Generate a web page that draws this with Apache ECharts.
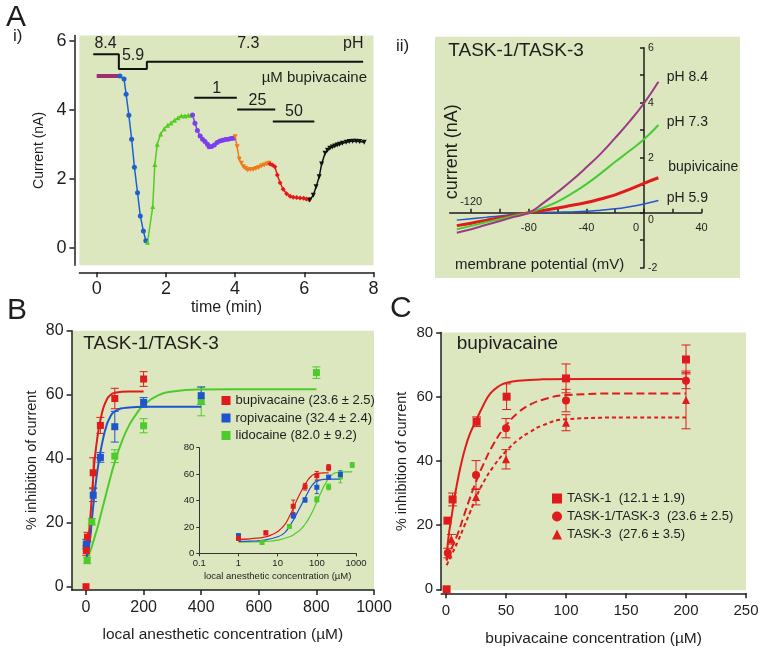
<!DOCTYPE html>
<html>
<head>
<meta charset="utf-8">
<script src="https://cdn.jsdelivr.net/npm/echarts@6/dist/echarts.min.js"></script>
<style>
  html, body { margin: 0; padding: 0; background: #fff; }
  #chart { width: 766px; height: 653px; }
</style>
</head>
<body>
<div id="chart"></div>
<script>
const FONT = "'Liberation Sans', Arial, sans-serif";
const BG = "#dce6bf";
const INK = "#1e1e1e";

// ---- panel A i : current vs time (min, nA)
const tracePurple = [[0, 4.98], [0.65, 4.98]];
const traceBlue = [[0.67, 4.98], [0.79, 4.89], [0.85, 4.45], [0.93, 3.84], [1.01, 3.15], [1.09, 2.34], [1.18, 1.6], [1.26, 0.93], [1.35, 0.49], [1.42, 0.21]];
const traceGreen = [[1.47, 0.17], [1.62, 1.2], [1.68, 2.42], [1.75, 3.0], [1.85, 3.3], [1.95, 3.45], [2.05, 3.55], [2.15, 3.62], [2.25, 3.7], [2.35, 3.77], [2.45, 3.83], [2.55, 3.82], [2.65, 3.84], [2.75, 3.84]];
const traceViolet = [[2.77, 3.85], [2.84, 3.61], [2.91, 3.4], [2.99, 3.24], [3.06, 3.15], [3.13, 3.08], [3.2, 3.0], [3.25, 2.93], [3.32, 2.94], [3.4, 2.98], [3.48, 3.05], [3.56, 3.1], [3.64, 3.12], [3.72, 3.14], [3.8, 3.15], [3.88, 3.17], [3.95, 3.18]];
const traceOrange = [[4.0, 3.22], [4.06, 2.93], [4.12, 2.57], [4.18, 2.45], [4.24, 2.35], [4.3, 2.3], [4.36, 2.26], [4.44, 2.27], [4.52, 2.27], [4.6, 2.3], [4.68, 2.33], [4.76, 2.37], [4.84, 2.4], [4.92, 2.43], [4.98, 2.45]];
const traceRed = [[5.01, 2.43], [5.08, 2.4], [5.15, 2.35], [5.22, 2.11], [5.3, 1.89], [5.39, 1.7], [5.49, 1.57], [5.59, 1.5], [5.68, 1.47], [5.78, 1.46], [5.88, 1.45], [5.98, 1.44], [6.06, 1.42], [6.14, 1.4]];
const traceBlack = [[6.16, 1.39], [6.26, 1.53], [6.34, 1.77], [6.43, 2.06], [6.5, 2.43], [6.6, 2.74], [6.67, 2.83], [6.74, 2.89], [6.81, 2.92], [6.88, 2.95], [6.95, 2.98], [7.02, 3.0], [7.1, 3.03], [7.21, 3.06], [7.3, 3.08], [7.4, 3.09], [7.5, 3.09], [7.6, 3.08], [7.73, 3.06]];
const phStep = [[-0.1, 5.61], [0.64, 5.61], [0.64, 5.18], [1.45, 5.18], [1.45, 5.39], [7.7, 5.39]];
const bar1 = [[2.82, 4.35], [4.05, 4.35]];
const bar25 = [[4.06, 4.01], [5.16, 4.01]];
const bar50 = [[5.09, 3.66], [6.29, 3.66]];
const timeTicks = [0, 2, 4, 6, 8];
const currentTicks = [0, 2, 4, 6];

// ---- panel A ii : I-V curves (mV, nA)
const ivVolt = [-130, -120, -110, -100, -90, -80, -70, -60, -50, -40, -30, -20, -10, 0, 10];
const ivPh84 = [-0.73, -0.6, -0.45, -0.3, -0.15, 0, 0.35, 0.75, 1.18, 1.65, 2.15, 2.72, 3.32, 3.98, 4.76];
const ivPh73 = [-0.6, -0.48, -0.35, -0.23, -0.11, 0, 0.18, 0.4, 0.7, 1.04, 1.43, 1.85, 2.25, 2.67, 3.19];
const ivBupi = [-0.47, -0.38, -0.28, -0.18, -0.09, 0, 0.08, 0.17, 0.27, 0.37, 0.5, 0.65, 0.85, 1.07, 1.27];
const ivPh59 = [-0.27, -0.22, -0.17, -0.12, -0.06, 0, 0.01, 0.02, 0.03, 0.05, 0.09, 0.14, 0.22, 0.32, 0.44];
const voltTicks = [-120, -100, -80, -60, -40, -20, 0, 20, 40];
const voltLabels = [-80, -40, 0, 40];
const ampTicks = [-2, -1, 0, 1, 2, 3, 4, 5, 6];
const ampLabels = [-2, 0, 2, 4, 6];

// ---- panel B : local anaesthetics on TASK-1/TASK-3 (µM, % inhibition)
const bupiConc = [0, 1, 5, 25, 50, 100, 200];
const bupiInh = [0, 11.3, 15.5, 35.6, 50.4, 58.8, 64.9];
const bupiErr = [0, 1.5, 1.5, 4.7, 2.5, 3.2, 2.3];
const ropiConc = [1, 25, 50, 100, 200, 400];
const ropiInh = [13.3, 28.6, 40.4, 50, 57.6, 59.7];
const ropiErr = [1.5, 2, 1.5, 4.8, 1.5, 2.7];
const lidoConc = [4, 20, 100, 200, 400, 800];
const lidoInh = [8.2, 20.3, 40.8, 50.3, 57.9, 66.9];
const lidoErr = [1, 1, 2, 2.2, 4.5, 1.8];
const bupiFitX = [1, 2, 3, 5, 7, 10, 15, 20, 25, 30, 40, 50, 60, 70, 80, 100, 150, 200];
const bupiFitY = [10.5, 11, 11.5, 12.5, 14, 16.5, 21.5, 28, 34, 39.5, 47, 52, 55.8, 58, 59.5, 60.6, 61, 61];
const ropiFitX = [1, 2, 5, 10, 15, 20, 25, 30, 40, 50, 60, 70, 80, 100, 150, 200, 300, 400];
const ropiFitY = [9, 9.2, 10.2, 12.5, 15.5, 20.5, 25, 29.5, 36.5, 42, 46.5, 50, 52.3, 54.8, 56, 56.2, 56.2, 56.2];
const lidoFitX = [1, 2, 5, 10, 20, 30, 40, 50, 60, 80, 100, 125, 150, 175, 200, 250, 300, 400, 600, 800];
const lidoFitY = [8.5, 8.6, 9, 10, 12.5, 15.5, 18.5, 22, 25.5, 32.5, 39, 45.5, 50.5, 54, 56.8, 59.8, 61, 61.6, 61.7, 61.7];
const concTicksB = [0, 200, 400, 600, 800, 1000];
const inhTicks = [0, 20, 40, 60, 80];

// ---- panel C : bupivacaine on TASK channels
const t1Conc = [0.5, 1.2, 5.5, 25.5, 50.5, 100, 200];
const t1Inh = [0, 21.4, 28, 52.2, 60, 65.7, 71.6];
const t1Err = [0, 0, 2, 1.5, 4, 4.5, 4.5];
const t13Conc = [1.5, 25, 50, 100, 200];
const t13Inh = [11.3, 35.6, 50.2, 58.8, 65];
const t13Err = [1.5, 4.5, 3, 3.5, 2.5];
const t3Conc = [4.5, 25, 50, 100, 200];
const t3Inh = [15.6, 28.8, 40.5, 51.9, 59];
const t3Err = [1.5, 2.5, 3, 2.5, 9];
const t1FitX = [0.5, 2, 5, 8, 12, 16, 20, 25, 30, 37, 45, 50, 60, 80, 120, 200];
const t1FitY = [9, 16, 23.5, 30.5, 38, 44, 48.5, 52.5, 56.5, 61, 63.5, 64.3, 65, 65.4, 65.5, 65.5];
const t13FitX = [0.5, 5, 10, 15, 20, 25, 30, 40, 50, 60, 70, 80, 100, 150, 200];
const t13FitY = [9, 13, 17.5, 23, 28.5, 33.5, 38, 45.5, 51, 55, 57.5, 59, 60.5, 61, 61];
const t3FitX = [0.5, 5, 10, 15, 20, 25, 30, 40, 50, 60, 70, 80, 100, 150, 200];
const t3FitY = [7.5, 11, 15, 19.5, 24, 28.5, 32.5, 38.5, 43, 46.5, 49, 51, 53, 53.5, 53.5];
const concTicksC = [0, 50, 100, 150, 200, 250];

const NAME_BUPI = "bupivacaine (23.6 ± 2.5)";
const NAME_ROPI = "ropivacaine (32.4 ± 2.4)";
const NAME_LIDO = "lidocaine (82.0 ± 9.2)";
const NAME_T1 = "TASK-1  (12.1 ± 1.9)";
const NAME_T13 = "TASK-1/TASK-3  (23.6 ± 2.5)";
const NAME_T3 = "TASK-3  (27.6 ± 3.5)";

const RED = "#e01b1b", BLUE = "#1f55cc", GREEN = "#4ccc2a";

function xy(xs, ys) {
  return xs.map((x, i) => [x, ys[i]]);
}
function xye(xs, ys, es) {
  return xs.map((x, i) => [x, ys[i], es[i]]);
}

function errBars(color, cap) {
  return function (params, api) {
    var x = api.value(0), y = api.value(1), e = api.value(2);
    if (!e) return null;
    var hi = api.coord([x, y + e]);
    var lo = api.coord([x, y - e]);
    var s = { stroke: color, lineWidth: 1 };
    return {
      type: "group",
      children: [
        { type: "line", shape: { x1: hi[0], y1: hi[1], x2: lo[0], y2: lo[1] }, style: s },
        { type: "line", shape: { x1: hi[0] - cap, y1: hi[1], x2: hi[0] + cap, y2: hi[1] }, style: s },
        { type: "line", shape: { x1: lo[0] - cap, y1: lo[1], x2: lo[0] + cap, y2: lo[1] }, style: s },
      ],
    };
  };
}

function axisBase(size, extra) {
  return Object.assign(
    {
      type: "value",
      splitLine: { show: false },
      axisLine: { show: true, onZero: false, lineStyle: { color: INK, width: 1.5 } },
      axisTick: { show: true, length: 5, lineStyle: { color: INK, width: 1.5 } },
      axisLabel: { color: INK, fontSize: size, fontFamily: FONT },
      nameTextStyle: { color: INK, fontFamily: FONT },
    },
    extra
  );
}

function trace(data, color, symbol, rotate) {
  return {
    type: "line", xAxisIndex: 0, yAxisIndex: 0, data: data,
    symbol: symbol, symbolSize: 5, symbolRotate: rotate || 0, showSymbol: true,
    lineStyle: { color: color, width: 1.5 }, itemStyle: { color: color }, z: 3,
  };
}
function protocol(data) {
  return {
    type: "line", xAxisIndex: 0, yAxisIndex: 0, data: data, symbol: "none",
    lineStyle: { color: "#111", width: 2 },
  };
}
function ivLine(ys, color, w) {
  return {
    type: "line", xAxisIndex: 1, yAxisIndex: 1, data: xy(ivVolt, ys), smooth: true,
    symbol: "none", lineStyle: { color: color, width: w },
  };
}
function fit(xi, yi, xs, ys, color, w, dash) {
  return {
    type: "line", xAxisIndex: xi, yAxisIndex: yi, data: xy(xs, ys), smooth: true,
    symbol: "none", lineStyle: { color: color, width: w, type: dash || "solid" },
  };
}
function dots(xi, yi, name, xs, ys, color, symbol, size) {
  return {
    type: "scatter", name: name, xAxisIndex: xi, yAxisIndex: yi,
    data: xy(xs, ys).filter((p) => xi !== 4 || p[0] > 0),
    symbol: symbol, symbolSize: size, itemStyle: { color: color, opacity: 1 }, z: 4,
  };
}
function errs(xi, yi, xs, ys, es, color, cap) {
  return {
    type: "custom", xAxisIndex: xi, yAxisIndex: yi,
    data: xye(xs, ys, es).filter((p) => xi !== 4 || p[0] > 0),
    renderItem: errBars(color, cap), z: 3,
  };
}

function txt(x, y, s, size, align, rot) {
  return {
    type: "text", x: x, y: y, rotation: rot || 0,
    style: {
      text: s, fill: INK, font: size + "px " + FONT,
      textAlign: align || "left", textVerticalAlign: "middle",
    },
  };
}

const chart = echarts.init(document.getElementById("chart"), null, { renderer: "canvas" });

const option = {
  animation: false,
  backgroundColor: "#ffffff",
  textStyle: { fontFamily: FONT },
  grid: [
    { left: 79.4, top: 35.5, width: 294.1, height: 229.8, show: true, backgroundColor: BG, borderWidth: 0, outerBoundsMode: "none" },
    { left: 449.6, top: 47.7, width: 252, height: 220, outerBoundsMode: "none" },
    { left: 71.6, top: 330.7, width: 302.4, height: 259.2, show: true, backgroundColor: BG, borderWidth: 0, outerBoundsMode: "none" },
    { left: 199.3, top: 447.7, width: 156.7, height: 105.6, outerBoundsMode: "none" },
    { left: 441.2, top: 332.5, width: 304.8, height: 257.8, show: true, backgroundColor: BG, borderWidth: 0, outerBoundsMode: "none" },
  ],
  xAxis: [
    axisBase(18, {
      gridIndex: 0, min: -0.5, max: 8, offset: 7,
      axisTick: { show: true, length: 5, customValues: timeTicks, lineStyle: { color: INK, width: 1.5 } },
      axisLabel: { color: INK, fontSize: 18, fontFamily: FONT, customValues: timeTicks, margin: 8 },
      name: "time (min)", nameLocation: "middle", nameGap: 27,
      nameTextStyle: { color: INK, fontFamily: FONT, fontSize: 16 },
    }),
    // A ii axes sit on the zero lines, pushed in with negative offsets
    axisBase(11, {
      gridIndex: 1, min: -135, max: 40, position: "bottom", offset: -55,
      axisTick: { show: true, inside: true, length: 4, customValues: voltTicks, lineStyle: { color: INK, width: 1.5 } },
      axisLabel: {
        color: INK, fontSize: 11, fontFamily: FONT, customValues: voltLabels, margin: 10,
        formatter: (v) => (v === 0 ? "{z|0}" : String(v)),
        rich: { z: { fontSize: 11, fontFamily: FONT, color: INK, padding: [0, 16, 0, 0] } },
      },
    }),
    axisBase(11, {
      gridIndex: 1, min: -135, max: 40, position: "bottom", offset: -55,
      axisLine: { show: false },
      axisTick: { show: false },
      axisLabel: { color: INK, fontSize: 11, fontFamily: FONT, inside: true, customValues: [-120], margin: 5 },
    }),
    axisBase(16, {
      gridIndex: 2, min: -50, max: 1000,
      axisTick: { show: true, length: 5, customValues: concTicksB, lineStyle: { color: INK, width: 1.5 } },
      axisLabel: { color: INK, fontSize: 16, fontFamily: FONT, customValues: concTicksB, margin: 10, formatter: (v) => String(v) },
      name: "local anesthetic concentration (µM)", nameLocation: "middle", nameGap: 37,
      nameTextStyle: { color: INK, fontFamily: FONT, fontSize: 15.5 },
    }),
    {
      type: "log", gridIndex: 3, min: 0.1, max: 1000, logBase: 10,
      splitLine: { show: false },
      axisLine: { show: true, onZero: false, lineStyle: { color: "#333", width: 1 } },
      axisTick: { show: true, length: 3, lineStyle: { color: "#333" } },
      axisLabel: { color: INK, fontSize: 9.5, fontFamily: FONT, margin: 5, formatter: (v) => String(+v.toPrecision(3)) },
      name: "local anesthetic concentration (µM)", nameLocation: "middle", nameGap: 18,
      nameTextStyle: { color: INK, fontFamily: FONT, fontSize: 9.5 },
    },
    axisBase(15, {
      gridIndex: 4, min: -4, max: 250, offset: 3,
      axisTick: { show: true, length: 5, customValues: concTicksC, lineStyle: { color: INK, width: 1.5 } },
      axisLabel: { color: INK, fontSize: 15, fontFamily: FONT, customValues: concTicksC, margin: 10 },
      name: "bupivacaine concentration (µM)", nameLocation: "middle", nameGap: 37,
      nameTextStyle: { color: INK, fontFamily: FONT, fontSize: 15.5 },
    }),
  ],
  yAxis: [
    axisBase(18, {
      gridIndex: 0, min: -0.5, max: 6.15, offset: 5,
      axisTick: { show: true, length: 5, customValues: currentTicks, lineStyle: { color: INK, width: 1.5 } },
      axisLabel: { color: INK, fontSize: 18, fontFamily: FONT, customValues: currentTicks, margin: 8 },
      name: "Current (nA)", nameLocation: "middle", nameGap: 28,
      nameTextStyle: { color: INK, fontFamily: FONT, fontSize: 14 },
    }),
    axisBase(10, {
      gridIndex: 1, min: -2, max: 6, position: "left", offset: -194.4,
      axisTick: { show: true, length: 4, customValues: ampTicks, lineStyle: { color: INK, width: 1.5 } },
      axisLabel: {
        color: INK, fontSize: 10.5, fontFamily: FONT, inside: true, customValues: ampLabels, margin: 4,
        formatter: (v) => (v === 0 ? "{z|0}" : String(v)),
        rich: { z: { fontSize: 10.5, fontFamily: FONT, color: INK, padding: [14, 0, 0, 0] } },
      },
    }),
    axisBase(16, {
      gridIndex: 2, min: -1, max: 80,
      axisTick: { show: true, length: 5, customValues: inhTicks, lineStyle: { color: INK, width: 1.5 } },
      axisLabel: { color: INK, fontSize: 16, fontFamily: FONT, customValues: inhTicks, margin: 8 },
      name: "% inhibition of current", nameLocation: "middle", nameGap: 32,
      nameTextStyle: { color: INK, fontFamily: FONT, fontSize: 14.5 },
    }),
    {
      type: "value", gridIndex: 3, min: 0, max: 80, interval: 20,
      splitLine: { show: false },
      axisLine: { show: true, onZero: false, lineStyle: { color: "#333", width: 1 } },
      axisTick: { show: true, length: 3, lineStyle: { color: "#333" } },
      axisLabel: { color: INK, fontSize: 9.5, fontFamily: FONT, margin: 5 },
    },
    axisBase(15, {
      gridIndex: 4, min: -0.3, max: 80,
      axisTick: { show: true, length: 5, customValues: inhTicks, lineStyle: { color: INK, width: 1.5 } },
      axisLabel: { color: INK, fontSize: 15, fontFamily: FONT, customValues: inhTicks, margin: 8 },
      name: "% inhibition of current", nameLocation: "middle", nameGap: 32,
      nameTextStyle: { color: INK, fontFamily: FONT, fontSize: 14.5 },
    }),
  ],
  legend: [
    {
      left: 221.5, top: 394, orient: "vertical", padding: 0, itemGap: 4.5,
      itemWidth: 9, itemHeight: 9, selectedMode: false,
      textStyle: { fontSize: 13, color: INK, fontFamily: FONT, lineHeight: 13 },
      data: [NAME_BUPI, NAME_ROPI, NAME_LIDO],
    },
    {
      left: 552, top: 492, orient: "vertical", padding: 0, itemGap: 5,
      itemWidth: 10, itemHeight: 10, selectedMode: false,
      textStyle: { fontSize: 13, color: INK, fontFamily: FONT, lineHeight: 13 },
      data: [NAME_T1, NAME_T13, NAME_T3],
    },
  ],
  graphic: [
    { type: "rect", shape: { x: 435, y: 36.7, width: 305, height: 241.3 }, style: { fill: BG }, z: -10 },
    txt(6, 18, "A", 30),
    txt(13, 36, "i)", 17),
    txt(396, 46, "ii)", 17),
    txt(7, 311, "B", 30),
    txt(390, 309, "C", 30),
    // A i protocol annotations
    txt(105.5, 44, "8.4", 16, "center"),
    txt(133, 56, "5.9", 16, "center"),
    txt(248.3, 44, "7.3", 16, "center"),
    txt(363.5, 44, "pH", 16, "right"),
    txt(367, 77.5, "µM bupivacaine", 15, "right"),
    txt(216.7, 88.7, "1", 16, "center"),
    txt(257.5, 100.5, "25", 16, "center"),
    txt(294, 112, "50", 16, "center"),
    // A ii labels
    txt(448.3, 51, "TASK-1/TASK-3", 19),
    txt(666.7, 76.7, "pH 8.4", 14),
    txt(666.7, 122.5, "pH 7.3", 14),
    txt(668.3, 167.5, "bupivicaine", 14),
    txt(666.7, 198.3, "pH 5.9", 14),
    txt(451.7, 151.7, "current (nA)", 18, "center", Math.PI / 2),
    txt(455, 265, "membrane potential (mV)", 15),
    // titles
    txt(83.3, 344, "TASK-1/TASK-3", 19),
    txt(456.7, 343.3, "bupivacaine", 19),
  ],
  series: [
    // A i
    protocol(phStep),
    protocol(bar1),
    protocol(bar25),
    protocol(bar50),
    {
      type: "line", xAxisIndex: 0, yAxisIndex: 0, data: tracePurple, symbol: "none",
      lineStyle: { color: "#9b2f72", width: 4 },
    },
    trace(traceBlue, "#1f5fd0", "circle"),
    trace(traceGreen, "#55cc22", "triangle"),
    trace(traceViolet, "#7b3ff0", "circle"),
    trace(traceOrange, "#f07a1a", "triangle", 180),
    trace(traceRed, "#e81818", "diamond"),
    trace(traceBlack, "#111111", "triangle", 180),
    // A ii
    ivLine(ivPh59, "#2255cc", 1.5),
    ivLine(ivBupi, "#e01b1b", 3),
    ivLine(ivPh73, "#44cc33", 2),
    ivLine(ivPh84, "#9b3a86", 2),
    // B main
    fit(3, 2, lidoFitX, lidoFitY, GREEN, 2),
    fit(3, 2, ropiFitX, ropiFitY, BLUE, 2),
    fit(3, 2, bupiFitX, bupiFitY, RED, 2),
    errs(3, 2, lidoConc, lidoInh, lidoErr, GREEN, 4),
    errs(3, 2, ropiConc, ropiInh, ropiErr, BLUE, 4),
    errs(3, 2, bupiConc, bupiInh, bupiErr, RED, 4),
    dots(3, 2, NAME_LIDO, lidoConc, lidoInh, GREEN, "rect", 7),
    dots(3, 2, NAME_ROPI, ropiConc, ropiInh, BLUE, "rect", 7),
    dots(3, 2, NAME_BUPI, bupiConc, bupiInh, RED, "rect", 7),
    // B inset
    fit(4, 3, lidoFitX, lidoFitY, GREEN, 1.2),
    fit(4, 3, ropiFitX, ropiFitY, BLUE, 1.2),
    fit(4, 3, bupiFitX, bupiFitY, RED, 1.2),
    errs(4, 3, lidoConc, lidoInh, lidoErr, GREEN, 2),
    errs(4, 3, ropiConc, ropiInh, ropiErr, BLUE, 2),
    errs(4, 3, bupiConc, bupiInh, bupiErr, RED, 2),
    dots(4, 3, NAME_LIDO, lidoConc, lidoInh, GREEN, "rect", 5),
    dots(4, 3, NAME_ROPI, ropiConc, ropiInh, BLUE, "rect", 5),
    dots(4, 3, NAME_BUPI, bupiConc, bupiInh, RED, "rect", 5),
    // C
    fit(5, 4, t1FitX, t1FitY, RED, 2),
    fit(5, 4, t13FitX, t13FitY, RED, 2, [8, 4]),
    fit(5, 4, t3FitX, t3FitY, RED, 2, [4, 3]),
    errs(5, 4, t1Conc, t1Inh, t1Err, RED, 4.5),
    errs(5, 4, t13Conc, t13Inh, t13Err, RED, 4.5),
    errs(5, 4, t3Conc, t3Inh, t3Err, RED, 4.5),
    dots(5, 4, NAME_T1, t1Conc, t1Inh, RED, "rect", 8),
    dots(5, 4, NAME_T13, t13Conc, t13Inh, RED, "circle", 8),
    dots(5, 4, NAME_T3, t3Conc, t3Inh, RED, "triangle", 8),
  ],
};

chart.setOption(option);
</script>
</body>
</html>
